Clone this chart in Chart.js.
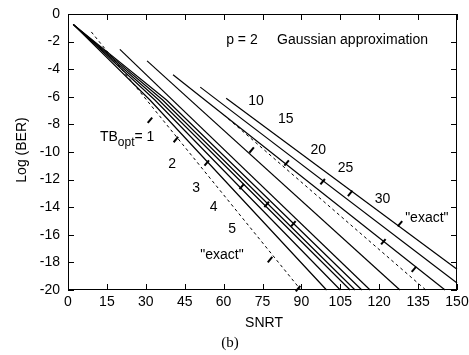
<!DOCTYPE html>
<html>
<head>
<meta charset="utf-8">
<script src="https://cdn.jsdelivr.net/npm/chart.js@4"></script>
<style>
  html, body { margin: 0; padding: 0; background: #fff; }
</style>
</head>
<body>
<canvas id="berChart" width="469" height="355"></canvas>
<script>
// BER vs SNRT, p = 2, Gaussian approximation (panel b)
const xTicks = [0, 15, 30, 45, 60, 75, 90, 105, 120, 135, 150];
const yTicks = [0, -2, -4, -6, -8, -10, -12, -14, -16, -18, -20];

// solid curves, one per TBopt value, as [SNRT, log BER]
const tb1 = [[2, -0.75], [31.6, -6.23], [99.7, -20]];
const tb2 = [[2, -0.75], [33.5, -6.23], [105, -20]];
const tb3 = [[2, -0.75], [35, -6.23], [108.8, -20]];
const tb4 = [[2, -0.75], [36.5, -6.23], [110.7, -20]];
const tb5 = [[2, -0.75], [38, -6.23], [113.3, -20]];
const tb10 = [[20, -2.56], [116.5, -20]];
const tb15 = [[30.5, -3.4], [128, -20]];
const tb20 = [[40.5, -4.4], [145.4, -20]];
const tb25 = [[51, -5.3], [150, -19.5]];
const tb30 = [[61, -6.1], [150, -18.5]];

// dashed "exact" curves
const exactLow = [[9, -1.3], [89.8, -20]];
const exactHigh = [[60, -7.3], [138, -20]];

// small tick marks drawn on the curves
const markX = [31.6, 41.6, 53.5, 67, 76.6, 86.9, 77.9, 88.7, 70.8, 84.3, 98.2, 108.8, 128, 121.6, 133.4];
const markY = [-7.7, -9.1, -10.8, -12.5, -13.8, -15.2, -17.8, -19.9, -9.86, -10.8, -12.15, -13, -15.2, -16.5, -18.5];

const FONT = '"Liberation Sans", Arial, Helvetica, sans-serif';

const toXY = pts => pts.map(p => ({ x: p[0], y: p[1] }));

const solid = (label, pts) => ({
  label, data: toXY(pts), showLine: true,
  borderColor: '#000', borderWidth: 1.2, pointRadius: 0, tension: 0
});
const dashed = (label, pts) => ({
  label, data: toXY(pts), showLine: true,
  borderColor: '#000', borderWidth: 1, borderDash: [3, 3], pointRadius: 0
});

// text placed in data coordinates
const notes = [
  { text: 'p = 2', x: 61, y: -1.9 },
  { text: 'Gaussian approximation', x: 80.6, y: -1.9 },
  { text: '10', x: 69.5, y: -6.28 },
  { text: '15', x: 81, y: -7.63 },
  { text: '20', x: 93.5, y: -9.86 },
  { text: '25', x: 104, y: -11.2 },
  { text: '30', x: 118.3, y: -13.4 },
  { text: '"exact"', x: 130, y: -14.8 },
  { text: '2', x: 38.7, y: -10.9 },
  { text: '3', x: 47.9, y: -12.6 },
  { text: '4', x: 54.7, y: -14.0 },
  { text: '5', x: 61.8, y: -15.6 },
  { text: '"exact"', x: 51, y: -17.5 }
];

const decorations = {
  id: 'decorations',
  afterDraw(chart) {
    const { ctx, chartArea: a, scales: { x, y } } = chart;
    ctx.save();
    ctx.strokeStyle = '#000';
    ctx.lineWidth = 1;
    ctx.strokeRect(a.left + 0.5, a.top + 0.5, a.right - a.left - 1, a.bottom - a.top - 1);
    const tl = 6;
    ctx.beginPath();
    xTicks.forEach(v => {
      const px = Math.round(x.getPixelForValue(v)) + 0.5;
      ctx.moveTo(px, a.bottom); ctx.lineTo(px, a.bottom - tl);
      ctx.moveTo(px, a.top); ctx.lineTo(px, a.top + tl);
    });
    yTicks.forEach(v => {
      const py = Math.round(y.getPixelForValue(v)) + 0.5;
      ctx.moveTo(a.left, py); ctx.lineTo(a.left + tl, py);
      ctx.moveTo(a.right, py); ctx.lineTo(a.right - tl, py);
    });
    ctx.stroke();

    ctx.fillStyle = '#000';
    ctx.font = '14px ' + FONT;

    // tick labels
    ctx.textBaseline = 'middle';
    ctx.textAlign = 'center';
    xTicks.forEach(v => ctx.fillText(String(v), x.getPixelForValue(v), a.bottom + 12));
    ctx.textAlign = 'right';
    yTicks.forEach(v => ctx.fillText(String(v), a.left - 8, y.getPixelForValue(v)));

    ctx.textAlign = 'left';
    notes.forEach(n => ctx.fillText(n.text, x.getPixelForValue(n.x), y.getPixelForValue(n.y)));

    // TB_opt = 1
    let px = x.getPixelForValue(12.3), py = y.getPixelForValue(-8.84) + 5;
    ctx.textBaseline = 'alphabetic';
    ctx.fillText('TB', px, py);
    px += ctx.measureText('TB').width;
    ctx.font = '12px ' + FONT;
    ctx.fillText('opt', px, py + 5);
    px += ctx.measureText('opt').width;
    ctx.font = '14px ' + FONT;
    ctx.fillText('= 1', px, py);

    // axis titles
    ctx.textAlign = 'center';
    ctx.textBaseline = 'middle';
    ctx.fillText('SNRT', 264, 323);
    ctx.save();
    ctx.translate(22, 150);
    ctx.rotate(-Math.PI / 2);
    ctx.fillText('Log (BER)', 0, 0);
    ctx.restore();
    ctx.font = '15px "Liberation Serif", "Times New Roman", serif';
    ctx.fillText('(b)', 230, 343);
    ctx.restore();
  }
};

new Chart(document.getElementById('berChart').getContext('2d'), {
  type: 'scatter',
  data: {
    datasets: [
      solid('TBopt = 1', tb1), solid('TBopt = 2', tb2), solid('TBopt = 3', tb3),
      solid('TBopt = 4', tb4), solid('TBopt = 5', tb5), solid('TBopt = 10', tb10),
      solid('TBopt = 15', tb15), solid('TBopt = 20', tb20), solid('TBopt = 25', tb25),
      solid('TBopt = 30', tb30),
      dashed('exact', exactLow), dashed('exact', exactHigh),
      {
        label: 'marks',
        data: markX.map((v, i) => ({ x: v, y: markY[i] })),
        pointStyle: 'line', rotation: 130, pointRadius: 3.5,
        borderColor: '#000', borderWidth: 2, showLine: false
      }
    ]
  },
  options: {
    responsive: false,
    animation: false,
    clip: false,
    layout: { padding: { top: 14, right: 12, left: 0, bottom: 0 } },
    plugins: { legend: { display: false }, tooltip: { enabled: false } },
    scales: {
      x: {
        type: 'linear', min: 0, max: 150,
        afterBuildTicks: s => { s.ticks = xTicks.map(v => ({ value: v })); },
        afterFit: s => { s.height = 65; },
        grid: { display: false },
        border: { display: false },
        ticks: { display: false }
      },
      y: {
        type: 'linear', min: -20, max: 0,
        afterBuildTicks: s => { s.ticks = yTicks.map(v => ({ value: v })); },
        afterFit: s => { s.width = 68; },
        grid: { display: false },
        border: { display: false },
        ticks: { display: false }
      }
    }
  },
  plugins: [decorations]
});
</script>
</body>
</html>
